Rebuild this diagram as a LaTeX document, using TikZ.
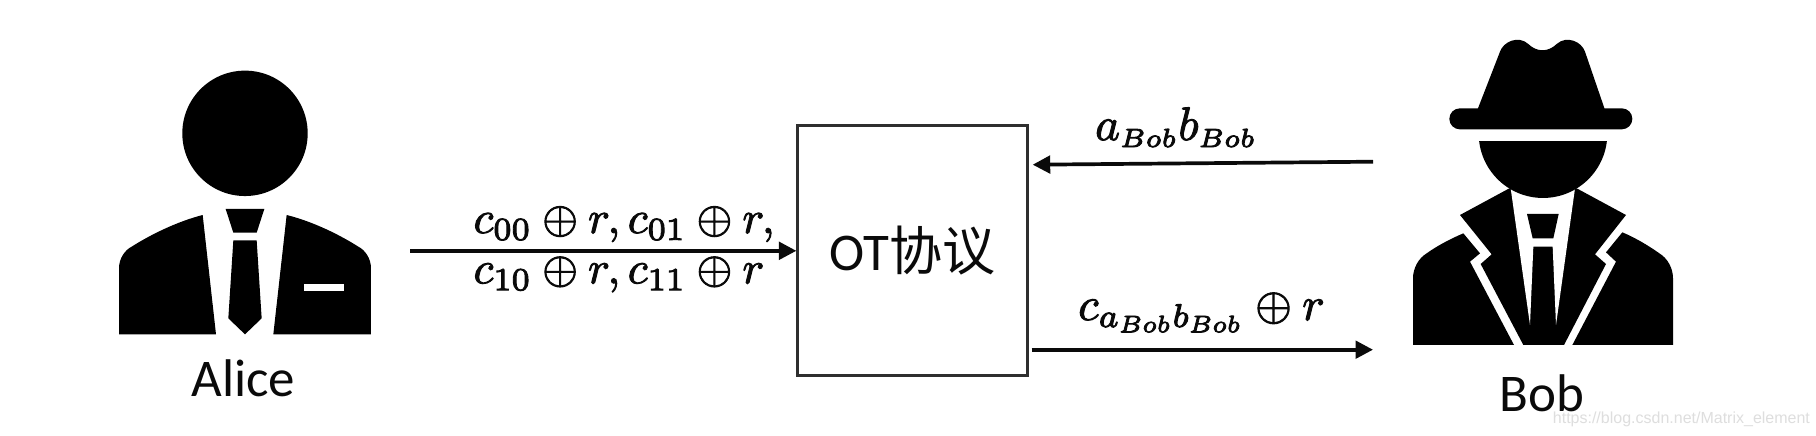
\documentclass[tikz,border=0pt]{standalone}
\usepackage{graphicx}
\usepackage{fontspec}
\setmainfont{Carlito}
\newfontfamily\cjk{Noto Sans CJK SC}
\newfontfamily\wm{Liberation Sans}
\usetikzlibrary{arrows.meta}
\definecolor{ink}{HTML}{0A0A0A}
\DeclareMathSizes{10}{10}{7}{6}
\newcommand{\mth}[2][4.58]{\scalebox{#1}{\special{pdf:code q 2 Tr 0.2 w}$#2$\special{pdf:code Q}}}
\newcommand{\bobsub}[1]{\scalebox{#1}{$\scriptscriptstyle Bob$}}
\tikzset{
  arr/.style={draw=ink,line width=3.7pt,-{Triangle[length=17.5pt,width=17.5pt]}},
  boxstyle/.style={draw=ink!85,line width=2.7pt,minimum width=230pt,minimum height=250pt,inner sep=0pt},
  lab/.style={anchor=base west,inner sep=0pt,text=ink},
  name lab/.style={anchor=base,inner sep=0pt,text=ink,font=\fontsize{53}{53}\selectfont},
  zoomA/.style={shift={(100pt,-50pt)},x=0.33333pt,y=-0.33333pt},
  zoomB/.style={shift={(1390pt,-20pt)},x=0.33333pt,y=-0.33333pt}
}
\begin{document}
\begin{tikzpicture}[x=1pt,y=-1pt]
\useasboundingbox[fill=white] (0,0) rectangle (1816,436);
% Alice
\begin{scope}[zoomA,fill=black]
  \fill (435,250) circle[radius=62.7pt];
  \fill (57,853) -- (57,655) .. controls (57,625) and (75,600) .. (95,590) .. controls (150,555) and (230,515) .. (308,495) -- (348,853) -- cycle;
  \fill (813,853) -- (813,655) .. controls (813,625) and (795,600) .. (775,590) .. controls (720,555) and (640,515) .. (560,495) -- (520,853) -- cycle;
  \fill[white] (612,701) rectangle (731,724);
  \fill (377,477) -- (493,477) -- (470,548) -- (400,548) -- cycle;
  \fill (400,571) -- (470,571) -- (485,805) -- (435,853) -- (385,805) -- cycle;
\end{scope}
\node[name lab] (alice) at (243.5,396.7) {Alice};
% Bob
\begin{scope}[zoomB,fill=black]
  % hat
  \fill[rounded corners=10.5pt] (178,265) rectangle (727,328);
  \fill (262,270) -- (330,95) .. controls (340,65) and (385,45) .. (415,72) .. controls (440,97) and (475,97) .. (500,72) .. controls (530,45) and (575,65) .. (585,95) -- (645,270) -- cycle;
  % lapels
  \fill (358,505) -- (210,585) -- (305,703) -- (272,732) -- (400,975) -- (522,975) -- (648,732) -- (615,703) -- (708,585) -- (560,505) -- cycle;
  \fill[white] (362,505) -- (420,915) -- (430,680) -- (488,680) -- (498,915) -- (555,505) -- cycle;
  \fill (411,582) -- (506,582) -- (490,655) -- (428,655) -- cycle;
  % shoulders
  \fill (220,640) -- (270,700) -- (240,725) -- (372,975) -- (69,975) -- (69,775) .. controls (69,745) and (85,715) .. (110,700) .. controls (145,675) and (185,655) .. (220,640) -- cycle;
  \fill (697,637) -- (648,697) -- (678,725) -- (547,975) -- (849,975) -- (849,775) .. controls (849,745) and (833,715) .. (808,700) .. controls (773,675) and (733,652) .. (697,637) -- cycle;
  % face
  \begin{scope}
    \clip (200,366) rectangle (720,600);
    \fill (459,341) circle[radius=64.3pt];
  \end{scope}
\end{scope}
\node[name lab] (bob) at (1541.7,411.7) {Bob};
% box
\node[boxstyle,font=\fontsize{53}{53}\selectfont,text=ink] (box) at (912.7,250.8) {OT{\cjk 协议}};
% connectors
\coordinate (aliceOut) at (410,250.8);
\coordinate (bobOut) at (1373,161.7);
\coordinate (bobIn) at (1373,349.7);
\coordinate (boxIn) at (1032.7,164.7);
\coordinate (boxOut) at (1031.7,349.7);
\draw[arr] (aliceOut) -- (box.west);
\draw[arr] (bobOut) -- (boxIn);
\draw[arr] (boxOut) -- (bobIn);
% labels
\node[lab] (l1) at (473.3,233) {\mth{c_{00}\oplus r,c_{01}\oplus r,}};
\node[lab] (l2) at (473.3,283.3) {\mth{c_{10}\oplus r,c_{11}\oplus r}};
\node[lab] (l3) at (1095,140) {\mth[4.7]{a_{\bobsub{.93}}b_{\bobsub{.93}}}};
\node[lab] (l4) at (1078,320) {\mth[4.7]{c_{a_{\bobsub{.85}}b_{\bobsub{.85}}}\oplus r}};
% watermark
\node[anchor=base west,inner sep=0pt,text=black!13,font=\wm\fontsize{16}{16}\selectfont] (wm) at (1552.7,423) {https://blog.csdn.net/Matrix\_element};
\end{tikzpicture}
\end{document}
